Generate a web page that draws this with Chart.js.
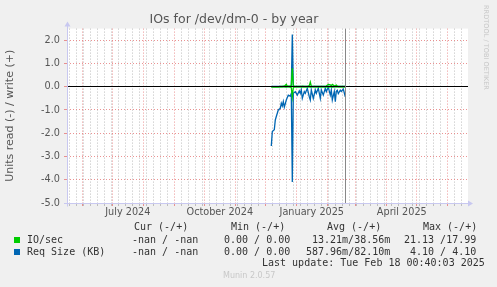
<!DOCTYPE html>
<html><head><meta charset="utf-8">
<script src="https://cdn.jsdelivr.net/npm/chart.js@4.4.1/dist/chart.umd.min.js"></script>
<style>
html,body{margin:0;padding:0;background:#f0f0f0;}
#wrap{position:relative;width:497px;height:287px;overflow:hidden;background:#f0f0f0;}
canvas{position:absolute;left:0;top:0;}
.t{position:absolute;font-family:"DejaVu Sans Mono",monospace;font-size:10px;line-height:12px;color:#333;white-space:pre;}
.sq{position:absolute;width:6px;height:6px;}
#munin{position:absolute;left:223px;top:271px;font-family:"DejaVu Sans",sans-serif;font-size:8px;line-height:10px;color:#c8c8c8;white-space:pre;}
#rrd{position:absolute;left:490px;top:5px;transform:rotate(90deg);transform-origin:0 0;font-family:"DejaVu Sans",sans-serif;font-size:6.6px;line-height:8px;color:#c8c8c8;white-space:pre;}
</style></head><body>
<div id="wrap">
<canvas id="c" width="497" height="287"></canvas>
<div id="rrd">RRDTOOL / TOBI OETIKER</div>
<div class="t" style="left:134px;top:221px">Cur (-/+)</div>
<div class="t" style="left:231px;top:221px">Min (-/+)</div>
<div class="t" style="left:327px;top:221px">Avg (-/+)</div>
<div class="t" style="left:423px;top:221px">Max (-/+)</div>
<div class="sq" style="left:14px;top:237px;background:#00cc00"></div>
<div class="t" style="left:27px;top:234px">IO/sec</div>
<div class="t" style="left:132px;top:234px">-nan / -nan</div>
<div class="t" style="left:224px;top:234px">0.00 / 0.00</div>
<div class="t" style="left:312px;top:234px">13.21m/38.56m</div>
<div class="t" style="left:404px;top:234px">21.13 /17.99</div>
<div class="sq" style="left:14px;top:249px;background:#0066b3"></div>
<div class="t" style="left:27px;top:246px">Req Size (KB)</div>
<div class="t" style="left:132px;top:246px">-nan / -nan</div>
<div class="t" style="left:224px;top:246px">0.00 / 0.00</div>
<div class="t" style="left:306px;top:246px">587.96m/82.10m</div>
<div class="t" style="left:410px;top:246px">4.10 / 4.10</div>
<div class="t" style="left:262px;top:257px">Last update: Tue Feb 18 00:40:03 2025</div>
<div id="munin">Munin 2.0.57</div>
</div>
<script>
// ---- data (x = days since 2024-06-01) ----
const days = [189,190,192,193,194,195,196,198,199,200,201,202,204,205,206,208,209,210,211,213,
  215,217,218,219,220,222,223,225,227,228,229,231,233,234,236,238,239,241,243,244,
  246,248,249,250,252,253,254,255,256,258,259,261,263];
const reqRead = [-2.55,-1.93,-1.85,-1.43,-1.28,-1.14,-1.00,-0.93,-0.71,-0.83,-0.64,-0.88,-0.57,-0.46,-0.36,-0.40,-0.29,-4.10,-0.28,-0.21,
  -0.36,-0.18,-0.28,-0.14,-0.50,-0.21,-0.28,-0.07,-0.43,-0.57,-0.14,-0.50,-0.14,-0.28,-0.07,-0.50,-0.14,-0.36,-0.07,-0.21,
  -0.02,-0.36,-0.14,-0.57,-0.20,-0.64,-0.20,-0.15,-0.30,-0.15,-0.20,-0.10,-0.43];
const reqWrite = [0.01,0.01,0.01,0.01,0.01,0.01,0.01,0.01,0.01,0.01,0.01,0.01,0.01,0.01,0.01,0.01,0.02,2.25,0.02,0.01,
  0.01,0.01,0.01,0.01,0.01,0.01,0.01,0.01,0.01,0.01,0.01,0.01,0.01,0.01,0.01,0.01,0.01,0.01,0.01,0.01,
  0.01,0.01,0.01,0.01,0.01,0.01,0.01,0.01,0.01,0.01,0.01,0.01,0.01];
const ioWrite = [0.0,0.0,0.0,0.0,0.0,0.0,0.0,0.01,0.01,0.01,0.02,0.02,0.10,0.02,0.02,0.02,0.06,0.79,0.04,0.01,
  0.01,0.01,0.01,0.01,0.02,0.01,0.01,0.01,0.05,0.20,0.02,0.01,0.01,0.01,0.01,0.01,0.01,0.01,0.01,0.03,
  0.10,0.08,0.05,0.10,0.04,0.05,0.07,0.03,0.01,0.01,0.01,0.01,0.01];
const ioRead = [0.0,0.0,0.0,0.0,0.0,0.0,0.0,-0.01,-0.01,-0.01,-0.01,-0.01,-0.02,-0.01,-0.01,-0.02,-0.04,-0.43,-0.03,-0.01,
  -0.01,-0.01,-0.01,-0.01,-0.01,-0.01,-0.01,-0.01,-0.01,-0.02,-0.01,-0.01,-0.01,-0.01,-0.01,-0.01,-0.01,-0.01,-0.01,-0.01,
  -0.02,-0.01,-0.01,-0.02,-0.01,-0.01,-0.01,-0.01,-0.01,-0.01,-0.01,-0.01,-0.01];
const xLabels = ['July 2024','October 2024','January 2025','April 2025'];
const xLabelMonths = [[2024,6],[2024,9],[2025,0],[2025,3]]; // [year, monthIndex]
const yMajorTicks = [2,1,0,-1,-2,-3,-4,-5];
const nowDay = 262.7;

// ---- helpers ----
const DAY0 = Date.UTC(2024,5,1);
const dayOf = (y,m,d) => (Date.UTC(y,m,d) - DAY0) / 86400000;
const X_MIN = -15.3, X_MAX = 385.7;
const monthStarts = [];
for (let y = 2024; y <= 2025; y++) for (let m = 0; m < 12; m++) {
  const d = dayOf(y,m,1); if (d > X_MIN && d < X_MAX) monthStarts.push(d);
}
const weekLines = [];
for (let d = dayOf(2024,4,12); d < X_MAX; d += 7) {
  if (d > X_MIN && !monthStarts.includes(d)) weekLines.push(d);
}
const labelDays = xLabelMonths.map(([y,m]) => dayOf(y,m,1) + 15.5);
const kindOf = v => monthStarts.includes(v) ? 'major' : (labelDays.includes(v) ? 'label' : 'minor');

const RED = 'rgba(230,120,120,0.8)';
const GRAY = 'rgba(185,185,185,0.95)';

const mk = (vals) => days.map((d,i) => ({x:d, y:vals[i]}));
const align = p => Math.round(p - 0.5) + 0.5;

const plugin = {
  id:'rrd',
  beforeDraw(chart){
    const {ctx, chartArea:a} = chart;
    ctx.save(); ctx.fillStyle = '#fff';
    ctx.fillRect(a.left, a.top, a.right - a.left, a.bottom - a.top);
    ctx.restore();
  },
  afterDatasetsDraw(chart){
    const {ctx, chartArea:a, scales} = chart;
    ctx.save();
    ctx.lineWidth = 1;
    // zero rule on top of the data
    const zy = align(scales.y.getPixelForValue(0));
    ctx.strokeStyle = '#000';
    ctx.beginPath(); ctx.moveTo(a.left, zy); ctx.lineTo(a.right, zy); ctx.stroke();
    // now line
    const nx = align(scales.x.getPixelForValue(nowDay));
    ctx.strokeStyle = '#888';
    ctx.beginPath(); ctx.moveTo(nx, a.top); ctx.lineTo(nx, a.bottom); ctx.stroke();
    // axes
    ctx.strokeStyle = '#c8c8f0'; ctx.fillStyle = '#c8c8f0';
    const lx = align(a.left), by = align(a.bottom);
    ctx.beginPath(); ctx.moveTo(lx, by + 3); ctx.lineTo(lx, a.top - 4); ctx.stroke();
    ctx.beginPath(); ctx.moveTo(lx - 3, a.top - 2); ctx.lineTo(lx + 3, a.top - 2); ctx.lineTo(lx, a.top - 7); ctx.closePath(); ctx.fill();
    ctx.beginPath(); ctx.moveTo(a.left - 3, by); ctx.lineTo(a.right + 2, by); ctx.stroke();
    ctx.beginPath(); ctx.moveTo(a.right, by - 3); ctx.lineTo(a.right, by + 3); ctx.lineTo(a.right + 5, by); ctx.closePath(); ctx.fill();
    ctx.restore();
  }
};

new Chart(document.getElementById('c'), {
  type:'line',
  data:{datasets:[
    {label:'IO/sec write', data:mk(ioWrite), borderColor:'#00cc00', borderWidth:1.3},
    {label:'IO/sec read', data:mk(ioRead), borderColor:'#00cc00', borderWidth:1.3},
    {label:'Req Size write', data:mk(reqWrite), borderColor:'#0066b3', borderWidth:1.3},
    {label:'Req Size read', data:mk(reqRead), borderColor:'#0066b3', borderWidth:1.3}
  ]},
  options:{
    responsive:false, animation:false, devicePixelRatio:1,
    layout:{padding:{left:0,right:29,top:0,bottom:0}},
    elements:{point:{radius:0}, line:{tension:0, fill:false}},
    plugins:{
      legend:{display:false}, tooltip:{enabled:false},
      title:{display:true, text:'IOs for /dev/dm-0 - by year', color:'#555',
        font:{family:'DejaVu Sans', size:12.5, weight:'normal', lineHeight:1.2},
        padding:{top:12, bottom:1.6}}
    },
    scales:{
      x:{type:'linear', min:X_MIN, max:X_MAX,
        afterFit(s){ s.height = 84; },
        afterBuildTicks(s){
          const all = [...monthStarts, ...weekLines, ...labelDays].sort((a,b)=>a-b);
          s.ticks = all.map(v => ({value:v}));
        },
        ticks:{autoSkip:false, maxRotation:0, padding:1, color:'#555',
          font:{family:'DejaVu Sans', size:9.7},
          callback:(v) => { const i = labelDays.indexOf(v); return i >= 0 ? xLabels[i] : ''; }},
        grid:{drawOnChartArea:true, tickLength:3, lineWidth:1,
          color:c => { const k = c.tick ? kindOf(c.tick.value) : 'minor'; return k==='major'?RED:(k==='minor'?GRAY:'rgba(0,0,0,0)'); },
          tickColor:c => { const k = c.tick ? kindOf(c.tick.value) : 'minor'; return k==='major'?RED:(k==='minor'?GRAY:'rgba(0,0,0,0)'); }},
        border:{display:false, dash:c => c.tick ? [1,2] : []}
      },
      y:{type:'linear', min:-5, max:2.5,
        afterFit(s){ s.width = 67; },
        ticks:{stepSize:0.5, padding:4, color:'#555', font:{family:'DejaVu Sans', size:9.7},
          callback:v => yMajorTicks.includes(v) ? v.toFixed(1) : ''},
        title:{display:true, text:'Units read (-) / write (+)', color:'#555',
          font:{family:'DejaVu Sans', size:11, lineHeight:1.2}, padding:{top:3.5,bottom:0}},
        grid:{tickLength:3, lineWidth:1,
          color:c => { if (!c.tick) return GRAY; const v = c.tick.value; return v===0?'#000':(Number.isInteger(v)?RED:GRAY); },
          tickColor:c => { if (!c.tick) return GRAY; const v = c.tick.value; return Number.isInteger(v)?RED:GRAY; }},
        border:{display:false, dash:c => (c.tick && c.tick.value !== 0) ? [1,2] : []}
      }
    }
  },
  plugins:[plugin]
});
</script>
</body></html>
